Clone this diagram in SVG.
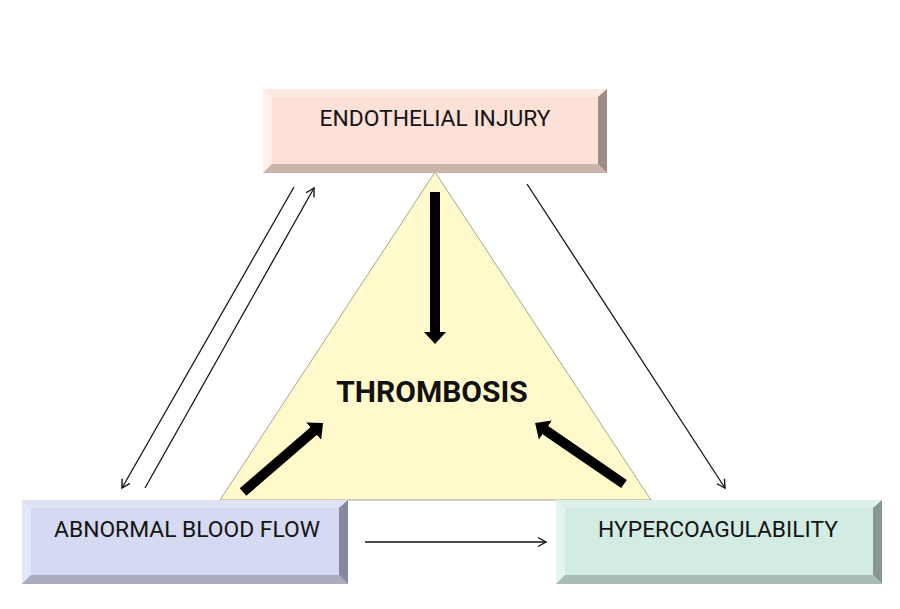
<svg xmlns="http://www.w3.org/2000/svg" width="900" height="609" viewBox="0 0 900 609">
<defs>
<style>
.lbl{font-family:Roboto,"Liberation Sans",sans-serif;font-size:22.8px;fill:#141414;text-anchor:middle}
.big{font-family:Roboto,"Liberation Sans",sans-serif;font-size:30px;font-weight:bold;fill:#111;text-anchor:middle}
.thin{stroke:#151515;stroke-width:1.3;fill:none}
.thick{stroke:#000;stroke-width:10;fill:none}
</style>
<marker id="open" markerUnits="userSpaceOnUse" markerWidth="12" markerHeight="12" viewBox="0 0 12 12" refX="9" refY="6" orient="auto">
<path d="M1,1.5 L9,6 L1,10.5" fill="none" stroke="#151515" stroke-width="1.4"/>
</marker>
<marker id="solid" markerUnits="userSpaceOnUse" markerWidth="13" markerHeight="23" viewBox="0 0 13 23" refX="0.5" refY="11.5" orient="auto">
<path d="M0,0 L12.5,11.5 L0,23 Z" fill="#000"/>
</marker>
</defs>
<rect width="900" height="609" fill="#fff"/>
<g id="thrombosis">
<polygon points="435,172 220,500 651,500" fill="#fff9cc" stroke="#8f8f80" stroke-width="0.8"/>
<text class="big" x="432" y="402">THROMBOSIS</text>
</g>
<g id="endothelial-injury">
<rect x="263" y="89" width="344" height="84" fill="#fde0d6"/>
<polygon points="263,89 607,89 598,97 272,97" fill="#feeae3"/>
<polygon points="263,89 272,97 272,164 263,173" fill="#fff0eb"/>
<polygon points="263,173 272,164 598,164 607,173" fill="#cbb4aa"/>
<polygon points="607,89 607,173 598,164 598,97" fill="#a08c85"/>
<text class="lbl" x="435" y="126">ENDOTHELIAL INJURY</text>
</g>
<g id="abnormal-blood-flow">
<rect x="22" y="500" width="326" height="84" fill="#d5d9f1"/>
<polygon points="22,500 348,500 339,508 31,508" fill="#dfe2f5"/>
<polygon points="22,500 31,508 31,575 22,584" fill="#e4e7f8"/>
<polygon points="22,584 31,575 339,575 348,584" fill="#a9acbf"/>
<polygon points="348,500 348,584 339,575 339,508" fill="#868a9c"/>
<text class="lbl" x="187" y="537">ABNORMAL BLOOD FLOW</text>
</g>
<g id="hypercoagulability">
<rect x="556" y="500" width="326" height="84" fill="#d3ece3"/>
<polygon points="556,500 882,500 873,508 565,508" fill="#ddf1ea"/>
<polygon points="556,500 565,508 565,575 556,584" fill="#e4f5ef"/>
<polygon points="556,584 565,575 873,575 882,584" fill="#a9bdb6"/>
<polygon points="882,500 882,584 873,575 873,508" fill="#879891"/>
<text class="lbl" x="718" y="537">HYPERCOAGULABILITY</text>
</g>
<g id="connectors">
<line class="thick" x1="435" y1="192" x2="435" y2="332" marker-end="url(#solid)"/>
<line class="thick" x1="243" y1="492" x2="314" y2="430.8" marker-end="url(#solid)"/>
<line class="thick" x1="624" y1="484" x2="545" y2="429.8" marker-end="url(#solid)"/>
<line class="thin" x1="294" y1="187" x2="122" y2="488" marker-end="url(#open)"/>
<line class="thin" x1="145" y1="488" x2="314" y2="188" marker-end="url(#open)"/>
<line class="thin" x1="527" y1="184" x2="725" y2="488" marker-end="url(#open)"/>
<line class="thin" x1="365" y1="542" x2="546" y2="542" marker-end="url(#open)"/>
</g>
</svg>
